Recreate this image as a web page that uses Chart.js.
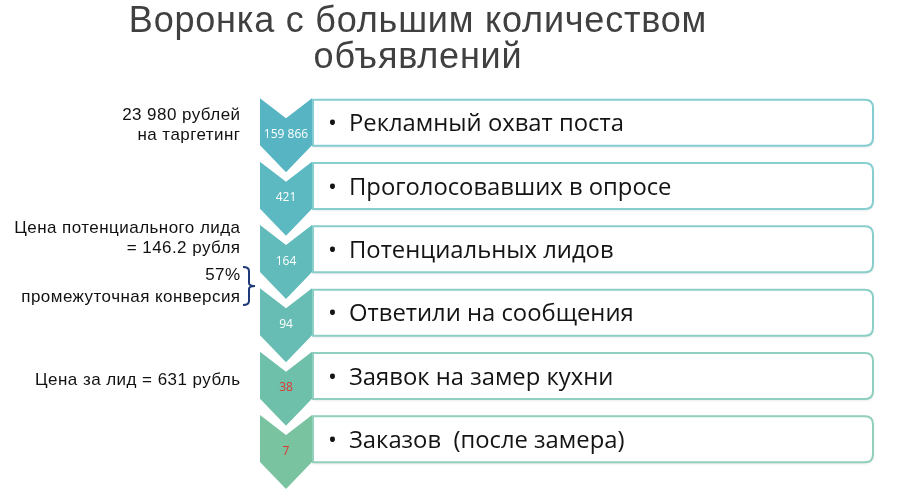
<!DOCTYPE html>
<html>
<head>
<meta charset="utf-8">
<script src="https://cdn.jsdelivr.net/npm/chart.js@4.4.1/dist/chart.umd.min.js"></script>
<style>
  html, body { margin: 0; padding: 0; background: #ffffff; }
  #wrap { width: 902px; height: 492px; }
</style>
</head>
<body>
<div id="wrap"><canvas id="c" width="902" height="492"></canvas></div>
<script>
// ---- data ----
const titleLines = ['Воронка с большим количеством', 'объявлений'];
const stages = [
  'Рекламный охват поста',
  'Проголосовавших в опросе',
  'Потенциальных лидов',
  'Ответили на сообщения',
  'Заявок на замер кухни',
  'Заказов  (после замера)'
];
const counts = [159866, 421, 164, 94, 38, 7];
const countLabels = ['159 866', '421', '164', '94', '38', '7'];
const noteTargeting = ['23 980 рублей', 'на таргетинг'];
const noteLeadPrice = ['Цена потенциального лида', '= 146.2 рубля'];
const noteConversion = ['57%', 'промежуточная конверсия'];
const noteFinalPrice = ['Цена за лид = 631 рубль'];

// ---- styles ----
const chevronColors = ['#57b5c3', '#5cb9c1', '#61bbbb', '#67bdb3', '#6fc0aa', '#7ac3a1'];
const countColors = ['#ffffff', '#ffffff', '#ffffff', '#ffffff', '#e2352f', '#e2352f'];
const boxBorder = ['#86cdd2', '#87cecf', '#89cecb', '#8bcfc5', '#8ecfbf', '#92d0b9'];

const spacingPlugin = {
  id: 'titleSpacing',
  beforeDraw(chart) { chart.ctx.save(); chart.ctx.letterSpacing = '0.8px'; },
  beforeDatasetsDraw(chart) { chart.ctx.restore(); }
};

const funnelPlugin = {
  id: 'funnel',
  afterDatasetsDraw(chart, args, opts) {
    const ctx = chart.ctx;
    const xs = chart.scales.x;
    const meta = chart.getDatasetMeta(0);
    const X = v => xs.getPixelForValue(v);
    const cL = X(260), cR = X(312), cM = X(286);
    const bL = X(313), bR = X(873);
    ctx.save();
    ctx.letterSpacing = '0px';
    // boxes
    meta.data.forEach((el, i) => {
      const cy = el.y;
      const top = cy - 22, bot = cy + 24, r = 8;
      ctx.save();
      ctx.shadowColor = 'rgba(0,0,0,0.16)';
      ctx.shadowBlur = 3;
      ctx.shadowOffsetY = 1;
      ctx.beginPath();
      ctx.moveTo(bL, top);
      ctx.lineTo(bR - r, top);
      ctx.quadraticCurveTo(bR, top, bR, top + r);
      ctx.lineTo(bR, bot - r);
      ctx.quadraticCurveTo(bR, bot, bR - r, bot);
      ctx.lineTo(bL, bot);
      ctx.closePath();
      ctx.fillStyle = '#ffffff';
      ctx.fill();
      ctx.restore();
      ctx.lineWidth = 2;
      ctx.strokeStyle = boxBorder[i];
      ctx.stroke();
      // stage text
      ctx.fillStyle = '#141414';
      ctx.font = '23.8px "Open Sans"';
      ctx.textAlign = 'left';
      ctx.textBaseline = 'alphabetic';
      ctx.fillText('•', X(328), cy + 9.5);
      ctx.fillText(chart.data.labels[i], X(349), cy + 9.5);
    });
    // chevrons
    meta.data.forEach((el, i) => {
      const cy = el.y;
      const top = cy - 23.3, body = cy + 23.7;
      ctx.beginPath();
      ctx.moveTo(cL, top);
      ctx.lineTo(cM, top + 20);
      ctx.lineTo(cR, top);
      ctx.lineTo(cR, body);
      ctx.lineTo(cM, body + 27);
      ctx.lineTo(cL, body);
      ctx.closePath();
      ctx.fillStyle = chevronColors[i];
      ctx.fill();
      ctx.fillStyle = countColors[i];
      ctx.font = '12px "Open Sans"';
      ctx.textAlign = 'center';
      ctx.textBaseline = 'middle';
      ctx.fillText(countLabels[i], cM, cy + 13);
    });
    // notes on the left
    const rowY = i => meta.data[i].y;
    const noteX = X(240);
    ctx.fillStyle = '#111111';
    ctx.font = '17px "Liberation Sans"';
    ctx.letterSpacing = '0.45px';
    ctx.textAlign = 'right';
    ctx.textBaseline = 'alphabetic';
    const nx = noteX + 0.5;
    noteTargeting.forEach((t, k) => ctx.fillText(t, nx, rowY(0) - 2 + k * 20));
    noteLeadPrice.forEach((t, k) => ctx.fillText(t, nx, rowY(2) - 15 + k * 19.5));
    const mid = (rowY(2) + rowY(3)) / 2;
    ctx.fillText(noteConversion[0], nx, mid - 0.5);
    ctx.fillText(noteConversion[1], nx, mid + 22);
    ctx.fillText(noteFinalPrice[0], nx, rowY(4) + 10);
    ctx.letterSpacing = '0px';
    // bracket
    const b0 = mid - 13, b1 = mid + 25, bm = (b0 + b1) / 2;
    const bx = X(243), bv = X(249), bt = X(255);
    ctx.beginPath();
    ctx.moveTo(bx, b0);
    ctx.quadraticCurveTo(bv, b0, bv, b0 + 4);
    ctx.lineTo(bv, bm - 3);
    ctx.quadraticCurveTo(bv, bm, bt, bm);
    ctx.quadraticCurveTo(bv, bm, bv, bm + 3);
    ctx.lineTo(bv, b1 - 4);
    ctx.quadraticCurveTo(bv, b1, bx, b1);
    ctx.strokeStyle = '#1f3a78';
    ctx.lineWidth = 2;
    ctx.stroke();
    ctx.restore();
  }
};

new Chart(document.getElementById('c'), {
  type: 'bar',
  data: {
    labels: stages,
    datasets: [{
      data: counts,
      xAxisID: 'xv',
      backgroundColor: 'rgba(0,0,0,0)',
      borderWidth: 0,
      categoryPercentage: 1,
      barPercentage: 1
    }]
  },
  options: {
    indexAxis: 'y',
    responsive: false,
    animation: false,
    layout: { padding: { left: 0, right: 66, top: 0, bottom: 22 } },
    scales: {
      y: { type: 'category', display: false, offset: true },
      x: { type: 'linear', min: 0, max: 836, display: false },
      xv: { axis: 'x', type: 'logarithmic', display: false }
    },
    plugins: {
      legend: { display: false },
      tooltip: { enabled: false },
      title: {
        display: true,
        text: titleLines,
        color: '#404040',
        font: { family: '"Liberation Sans", Arial, sans-serif', size: 36, weight: 'normal', lineHeight: 1 },
        padding: { top: 4, bottom: 14 }
      }
    }
  },
  plugins: [spacingPlugin, funnelPlugin]
});
</script>
</body>
</html>
